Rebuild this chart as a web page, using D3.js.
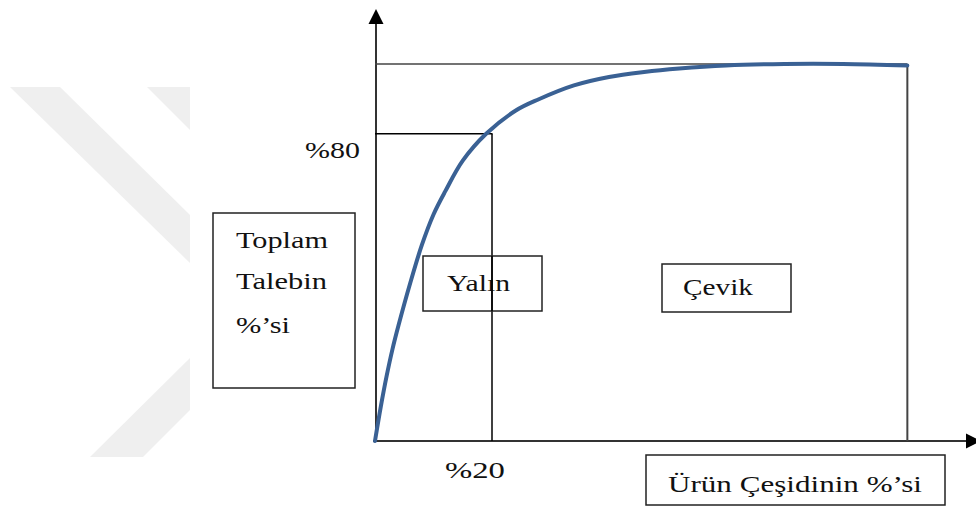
<!DOCTYPE html>
<html>
<head>
<meta charset="utf-8">
<script src="https://cdn.jsdelivr.net/npm/d3@7"></script>
<style>
  body { margin: 0; background: #fff; }
</style>
</head>
<body>
<div id="chart"></div>
<script>
// curve: share of total demand (%) against share of product variety (%)
const varietyPct = [0, 1, 2, 3, 4, 6, 8, 10, 12, 15, 19, 24, 28, 34, 40, 46, 52, 60, 70, 80, 91];
const demandPct  = [0, 9, 17, 24, 30, 41, 51, 59, 65, 73, 80, 86, 89, 92.6, 94.8, 96.1, 97, 97.8, 98.2, 98.2, 97.8];

// reference levels
const cutX = 20;      // %20 of variety
const cutY = 80;      // %80 of demand
const topLevel = 98.2;
const endX = 91;

const tickLabels = { x: "%20", y: "%80" };
const boxLabels = ["Yalın", "Çevik"];
const yTitle = ["Toplam", "Talebin", "%’si"];
const xTitle = "Ürün Çeşidinin %’si";

const width = 976, height = 509;

const svg = d3.select("#chart").append("svg")
    .attr("width", width)
    .attr("height", height);

// faint watermark at the left
const wm = svg.append("g").attr("fill", "#efefef");
[
  [[10, 87], [60, 87], [190, 215], [190, 263]],
  [[147, 87], [190, 87], [190, 130]],
  [[190, 358], [190, 410], [143, 457], [90, 457]]
].forEach(function(p) {
  wm.append("path").attr("d", "M" + p.join("L") + "Z");
});

// scales
const x = d3.scaleLinear().domain([0, 100]).range([375, 960]);
const y = d3.scaleLinear().domain([0, 100]).range([441, 57]);

// arrow heads
const defs = svg.append("defs");
defs.append("marker")
    .attr("id", "arrow")
    .attr("viewBox", "0 0 10 10")
    .attr("refX", 0).attr("refY", 5)
    .attr("markerWidth", 15).attr("markerHeight", 17)
    .attr("markerUnits", "userSpaceOnUse")
    .attr("orient", "auto")
  .append("path")
    .attr("d", "M0,0L10,5L0,10Z")
    .attr("fill", "#000");

// axes
svg.append("line")
    .attr("x1", x(0) + 1).attr("y1", y(0))
    .attr("x2", x(0) + 1).attr("y2", 24)
    .attr("stroke", "#333").attr("stroke-width", 2)
    .attr("marker-end", "url(#arrow)");

svg.append("line")
    .attr("x1", x(0) - 2).attr("y1", y(0))
    .attr("x2", 966).attr("y2", y(0))
    .attr("stroke", "#333").attr("stroke-width", 2)
    .attr("marker-end", "url(#arrow)");

// frame lines
svg.append("line")
    .attr("x1", x(0)).attr("y1", y(topLevel))
    .attr("x2", x(endX)).attr("y2", y(topLevel))
    .attr("stroke", "#444").attr("stroke-width", 1.5);

svg.append("line")
    .attr("x1", x(endX)).attr("y1", y(topLevel))
    .attr("x2", x(endX)).attr("y2", y(0))
    .attr("stroke", "#444").attr("stroke-width", 2);

svg.append("line")
    .attr("x1", x(0)).attr("y1", y(cutY))
    .attr("x2", x(cutX) + 0.5).attr("y2", y(cutY))
    .attr("stroke", "#000").attr("stroke-width", 1.5);

svg.append("line")
    .attr("x1", x(cutX)).attr("y1", y(cutY))
    .attr("x2", x(cutX)).attr("y2", y(0))
    .attr("stroke", "#000").attr("stroke-width", 1.5);

// the curve
const curveData = varietyPct.map(function(v, i) { return { X: v, Y: demandPct[i] }; });
svg.append("path")
    .datum(curveData)
    .attr("fill", "none")
    .attr("stroke", "#3a6194")
    .attr("stroke-width", 4)
    .attr("stroke-linecap", "round")
    .attr("d", d3.line()
        .curve(d3.curveCatmullRom)
        .x(function(d) { return x(d.X); })
        .y(function(d) { return y(d.Y); })
    );

// text helper: serif text stretched sideways like the original
function label(str, tx, ty, len) {
  const t = svg.append("text")
      .attr("font-family", "Liberation Serif")
      .attr("font-size", 23)
      .attr("fill", "#111")
      .text(str);
  const natural = t.node().getComputedTextLength();
  t.attr("transform", "translate(" + tx + "," + ty + ") scale(" + (len / natural) + ",1)");
  return t;
}

// tick labels
label(tickLabels.y, x(0) - 70, y(cutY) + 24, 55);
label(tickLabels.x, x(cutX) - 47, y(0) + 37, 60);

// boxes
function box(x0, y0, w, h) {
  svg.append("rect")
      .attr("x", x0).attr("y", y0)
      .attr("width", w).attr("height", h)
      .attr("fill", "none")
      .attr("stroke", "#222").attr("stroke-width", 1.5);
}

box(213, 213, 142, 175);
yTitle.forEach(function(t, i) {
  label(t, 236, [248, 289, 333][i], [92, 91, 54][i]);
});

box(423, 256, 119, 55);
label(boxLabels[0], 447, 291, 63);

box(662, 264, 129, 48);
label(boxLabels[1], 683, 295, 70);

box(646, 455, 299, 50);
label(xTitle, 668, 492, 254);

// vertical %20 line passes over the Yalın box
svg.append("line")
    .attr("x1", x(cutX)).attr("y1", 256)
    .attr("x2", x(cutX)).attr("y2", 311)
    .attr("stroke", "#000").attr("stroke-width", 1.5);
</script>
</body>
</html>
